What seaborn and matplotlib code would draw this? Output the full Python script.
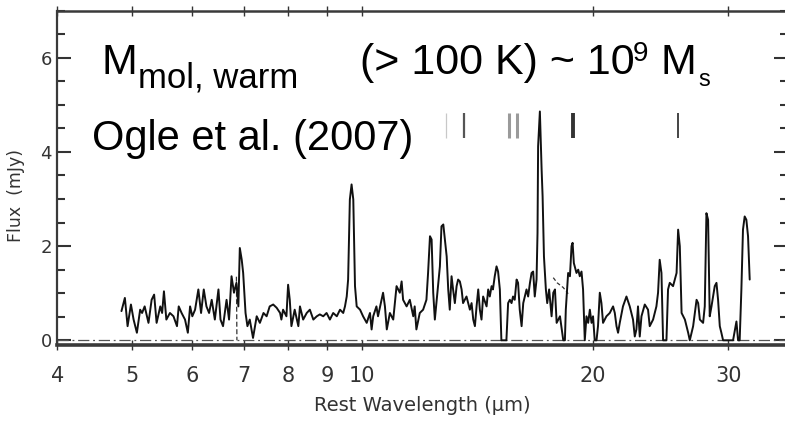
import matplotlib
matplotlib.use("Agg")
import matplotlib.pyplot as plt
import seaborn as sns
import pandas as pd
from matplotlib.ticker import MultipleLocator, NullLocator, FixedLocator

# ---------------- data ----------------
wavelength = [
    4.85, 4.90, 4.94, 4.99, 5.03, 5.08, 5.13, 5.16, 5.20, 5.26, 5.31, 5.35, 5.39, 5.45, 5.48, 5.51,
    5.55, 5.61, 5.67, 5.73, 5.76, 5.81, 5.87, 5.92, 5.96, 6.00, 6.05, 6.11, 6.16, 6.21, 6.26, 6.31,
    6.36, 6.42, 6.49, 6.53, 6.58, 6.65, 6.70, 6.75, 6.80, 6.85, 6.89, 6.92, 6.96, 6.99, 7.04, 7.08,
    7.13, 7.20, 7.28, 7.35, 7.43, 7.50, 7.57, 7.65, 7.73, 7.81, 7.84, 7.88, 7.96, 8.00, 8.04, 8.08,
    8.16, 8.25, 8.29, 8.37, 8.46, 8.54, 8.63, 8.72, 8.80, 8.89, 8.98, 9.07, 9.16, 9.26, 9.35, 9.44,
    9.49, 9.54, 9.58, 9.63, 9.68, 9.73, 9.78, 9.83, 9.93, 10.02, 10.13, 10.23, 10.28, 10.33, 10.43,
    10.48, 10.59, 10.64, 10.70, 10.76, 10.86, 10.97, 11.08, 11.19, 11.25, 11.30, 11.42, 11.53, 11.65,
    11.70, 11.76, 11.88, 12.00, 12.12, 12.18, 12.25, 12.31, 12.37, 12.43, 12.50, 12.62, 12.68, 12.75,
    12.88, 12.94, 13.00, 13.07, 13.13, 13.20, 13.27, 13.33, 13.40, 13.47, 13.53, 13.67, 13.81, 13.88,
    13.95, 14.02, 14.09, 14.16, 14.23, 14.30, 14.37, 14.52, 14.59, 14.66, 14.74, 14.80, 14.88, 14.96,
    15.03, 15.11, 15.18, 15.26, 15.41, 15.49, 15.57, 15.65, 15.72, 15.80, 15.89, 15.96, 16.04, 16.13,
    16.21, 16.37, 16.45, 16.54, 16.62, 16.70, 16.78, 16.87, 16.92, 16.95, 17.04, 17.13, 17.18, 17.25,
    17.35, 17.42, 17.52, 17.65, 17.74, 17.83, 17.92, 18.10, 18.28, 18.37, 18.42, 18.55, 18.65, 18.74,
    18.80, 18.87, 19.02, 19.12, 19.21, 19.31, 19.40, 19.50, 19.60, 19.70, 19.80, 19.90, 19.99, 20.09,
    20.20, 20.29, 20.40, 20.50, 20.60, 20.81,
    21.02, 21.23, 21.34, 21.45, 21.55, 21.66, 21.87, 22.10, 22.32, 22.54, 22.66, 22.77, 22.88, 23.00,
    23.12, 23.35, 23.58, 23.70, 23.94, 24.18, 24.30, 24.42, 24.55, 24.67, 24.92, 25.04, 25.17, 25.42,
    25.69, 25.81, 25.94, 26.08, 26.34, 26.60, 26.73, 27.00, 27.28, 27.41, 27.55, 27.82, 27.96, 28.10,
    28.24, 28.38, 28.53, 28.81, 28.96, 29.10, 29.25, 29.39, 29.54, 30.44, 30.75, 30.90, 31.05, 31.21,
    31.36, 31.52, 31.68, 31.84, 32.00,
]
flux = [
    0.62, 0.90, 0.30, 0.76, 0.44, 0.16, 0.65, 0.58, 0.72, 0.37, 0.86, 0.97, 0.37, 0.72, 0.58, 1.04,
    0.44, 0.58, 0.51, 0.30, 0.72, 0.58, 0.44, 0.16, 0.72, 0.51, 0.65, 1.08, 0.58, 1.08, 0.72, 0.58,
    0.86, 0.44, 1.08, 0.44, 0.30, 0.86, 0.44, 1.36, 1.01, 1.22, 0.72, 1.96, 1.71, 1.43, 0.58, 0.30,
    0.44, 0.05, 0.51, 0.37, 0.58, 0.51, 0.72, 0.76, 0.69, 0.58, 0.44, 0.65, 0.51, 1.18, 0.86, 0.30,
    0.65, 0.30, 0.72, 0.44, 0.58, 0.65, 0.44, 0.51, 0.55, 0.51, 0.58, 0.44, 0.58, 0.51, 0.65, 0.58,
    0.72, 0.93, 1.29, 2.99, 3.31, 2.99, 1.15, 0.72, 0.65, 0.51, 0.37, 0.58, 0.23, 0.51, 0.72,
    0.51, 0.86, 1.01, 0.72, 0.23, 0.58, 0.44, 1.15, 1.01, 1.25, 0.86, 0.72, 0.86, 0.51,
    0.72, 0.23, 0.58, 0.65, 0.86, 1.43, 2.21, 2.14, 1.01, 0.44, 0.86, 1.57, 2.42, 2.46,
    1.78, 1.08, 0.65, 1.36, 1.08, 0.79, 1.15, 1.29, 1.25, 1.08, 0.79, 0.93, 0.65, 0.79,
    0.44, 0.30, 0.72, 1.08, 0.65, 0.44, 0.93, 0.72, 1.08, 0.93, 1.15, 1.08, 1.36, 1.57,
    1.46, 1.08, 0.00, 0.00, 0.00, 0.79, 0.86, 0.79, 0.93, 0.86, 1.29, 1.22, 0.65, 0.30,
    0.79, 1.08, 0.93, 1.22, 1.43, 1.46, 0.93, 1.29, 2.28, 4.12, 4.86, 3.62, 3.06, 1.78,
    1.08, 0.79, 1.08, 0.51, 1.01, 1.08, 0.37, 0.51, 0.00, 0.00, 0.65, 1.43, 1.36, 2.00,
    2.07, 1.64, 1.43, 1.50, 1.36, 1.46, 1.08, 0.00, 0.51, 0.37, 0.65, 0.37, 0.51, 0.00,
    0.00, 0.30, 1.01, 0.79, 0.37, 0.51,
    0.58, 0.72, 0.58, 0.30, 0.16, 0.37, 0.72, 0.93, 0.72, 0.44, 0.08, 0.23, 0.72, 0.08,
    0.51, 0.76, 0.65, 0.30, 0.44, 0.72, 1.01, 1.71, 1.43, 0.00, 0.00, 1.08, 1.22, 1.15,
    1.43, 2.35, 2.00, 0.58, 0.44, 0.16, 0.00, 0.30, 0.86, 0.79, 0.44, 0.37, 0.72, 2.70,
    2.56, 0.51, 0.72, 1.15, 1.22, 0.86, 0.30, 0.16, 0.00, 0.00, 0.40, 0.00, 0.00, 1.08,
    2.35, 2.63, 2.56, 2.21, 1.29,
]

# faint dashed second spectrum pieces
dash_a_wl = [6.85, 6.86]
dash_a_flux = [1.35, 0.00]
dash_b_wl = [17.74, 17.95, 18.28, 18.55]
dash_b_flux = [1.33, 1.22, 1.12, 0.99]

# emission line markers near the top
marker_wl = [12.85, 13.55, 15.52, 15.90, 18.80, 25.80]
marker_lo, marker_hi = 4.30, 4.82

x_ticks = [4, 5, 6, 7, 8, 9, 10, 20, 30]
x_ticklabels = ["4", "5", "6", "7", "8", "9", "10", "20", "30"]
y_ticks = [0, 2, 4, 6]
y_ticklabels = ["0", "2", "4", "6"]

# ---------------- figure ----------------
sns.set_style("ticks")
plt.rcParams["font.family"] = ["DejaVu Sans"]

W, H = 785, 421
fig = plt.figure(figsize=(W / 100, H / 100), dpi=100)
ax = fig.add_axes([57.3 / W, (H - 345) / H, (788 - 57.3) / W, (345 - 10.7) / H])

df = pd.DataFrame({"wavelength": wavelength, "flux": flux})
ax.set_xscale("log")
ax.axhline(0, color="#555555", lw=0.9, dashes=(9, 3, 1.5, 3), zorder=1)
sns.lineplot(data=df, x="wavelength", y="flux", ax=ax, color="#111111",
             lw=1.4, estimator=None, sort=False, zorder=3)
ax.plot(dash_a_wl, dash_a_flux, color="#333333", lw=0.9, ls=(0, (4, 2)), zorder=2)
ax.plot(dash_b_wl, dash_b_flux, color="#333333", lw=0.9, ls=(0, (3, 2)), zorder=2)

m_colors = ["#c8c8c8", "#555555", "#9a9a9a", "#9a9a9a", "#333333", "#444444"]
m_widths = [0.9, 1.6, 2.2, 2.2, 2.8, 1.4]
for wl, c, w in zip(marker_wl, m_colors, m_widths):
    ax.vlines(wl, marker_lo, marker_hi, color=c, lw=w, zorder=2)

ax.set_xlim(4, 35.9)
ax.set_ylim(-0.1, 7.0)

ax.xaxis.set_major_locator(FixedLocator(x_ticks))
ax.set_xticklabels(x_ticklabels)
ax.xaxis.set_minor_locator(NullLocator())
ax.set_yticks(y_ticks)
ax.set_yticklabels(y_ticklabels)
ax.yaxis.set_minor_locator(MultipleLocator(0.5))

tc = "#333333"
ax.tick_params(axis="x", which="major", direction="inout", length=7, width=1.0,
               top=True, bottom=True, labelsize=15, pad=11.5, colors=tc)
ax.tick_params(axis="y", which="major", direction="in", length=10, width=1.5,
               left=True, right=True, labelsize=13, pad=4, colors=tc)
ax.tick_params(axis="y", which="minor", direction="in", length=6, width=1.5,
               left=True, right=True, colors=tc)

for side, lw in [("left", 1.6), ("top", 1.8), ("bottom", 2.6), ("right", 1.6)]:
    ax.spines[side].set_visible(True)
    ax.spines[side].set_linewidth(lw)
    ax.spines[side].set_color("#3a3a3a")

ax.set_xlabel("Rest Wavelength (\u00b5m)", fontsize=14, color=tc)
ax.xaxis.set_label_coords(0.5, -0.152)
ax.set_ylabel("Flux  (mJy)", fontsize=12.5, color=tc)
ax.yaxis.set_label_coords(-0.044, 0.446)

# ---------------- overlaid annotation text ----------------
tf = ["Liberation Sans", "DejaVu Sans"]
def ftext(px, py, s, size):
    fig.text(px / W, 1 - py / H, s, fontsize=size, family=tf, color="black",
             ha="left", va="baseline")

ftext(101.7, 74, "M", 31)
ftext(137.7, 87, "mol, warm", 25)
ftext(360, 74, "(> 100 K) ~ 10", 31)
ftext(633, 61, "9", 20)
ftext(661, 74, "M", 31)
ftext(698, 86, "s", 17)
ftext(92, 150, "Ogle et al. (2007)", 30)

fig.savefig("out.png", dpi=100)
